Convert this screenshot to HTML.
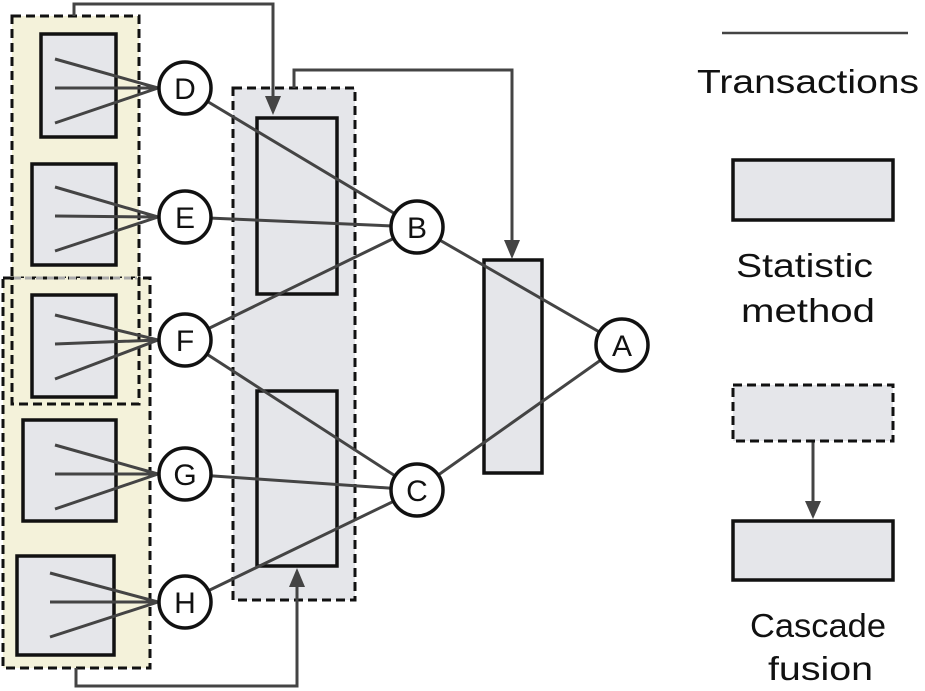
<!DOCTYPE html>
<html><head><meta charset="utf-8"><style>body{margin:0;background:#fff}svg{display:block}text{font-family:"Liberation Sans",sans-serif}</style></head><body>
<svg width="925" height="691" viewBox="0 0 925 691" xmlns="http://www.w3.org/2000/svg">
<!-- beige groups -->
<rect x="3" y="278" width="147" height="390" fill="#f4f2da" stroke="#111" stroke-width="3" stroke-dasharray="9,5"/>
<rect x="12" y="16" width="127" height="262" fill="#f4f2da" stroke="#111" stroke-width="3" stroke-dasharray="9,5"/>
<rect x="12" y="278" width="127" height="126" fill="#f4f2da" stroke="#111" stroke-width="3" stroke-dasharray="9,5"/>
<line x1="14" y1="278" x2="137" y2="278" stroke="#aaa" stroke-width="3" stroke-dasharray="7,4"/>
<!-- small boxes -->
<g fill="#e5e6ea" stroke="#111" stroke-width="3.5">
<rect x="41" y="34" width="75" height="103"/>
<rect x="32" y="164" width="84" height="101"/>
<rect x="32" y="295" width="84" height="102"/>
<rect x="23" y="420" width="93" height="101"/>
<rect x="17" y="556" width="97" height="99"/>
</g>
<g stroke="#444" stroke-width="3">
<path d="M55,59 L158,88 M55,88 L158,88 M55,123 L158,88"/>
<path d="M55,187 L158,217 M55,216 L158,217 M55,251 L158,217"/>
<path d="M55,315 L158,340 M55,344 L158,340 M55,379 L158,340"/>
<path d="M55,445 L158,474 M55,474 L158,474 M55,509 L158,474"/>
<path d="M50,573 L158,602 M50,602 L158,602 M50,637 L158,602"/>
</g>
<!-- middle group -->
<rect x="233" y="88" width="122" height="512" fill="#e5e6ea" stroke="#111" stroke-width="3" stroke-dasharray="9,5"/>
<rect x="257" y="118" width="80" height="176" fill="#e5e6ea" stroke="#111" stroke-width="3.5"/>
<rect x="257" y="391" width="80" height="175" fill="#e5e6ea" stroke="#111" stroke-width="3.5"/>
<rect x="484" y="260" width="58" height="213" fill="#e5e6ea" stroke="#111" stroke-width="3.5"/>
<!-- connectors -->
<g stroke="#444" stroke-width="3" fill="none">
<path d="M74,16 L74,4 L273,4 L273,100"/>
<path d="M294,88 L294,70 L512,70 L512,244"/>
<path d="M76,668 L76,686 L297,686 L297,584"/>
<path d="M185,88 L417,227 M185,217 L417,227 M185,340 L417,227"/>
<path d="M185,340 L417,490 M185,474 L417,490 M185,602 L417,490"/>
<path d="M417,227 L622,345 M417,490 L622,345"/>
<path d="M813,442 L813,504"/>
</g>
<g fill="#444">
<polygon points="265,96 281,96 273,115"/>
<polygon points="504,240 520,240 512,259"/>
<polygon points="289,587 305,587 297,568"/>
<polygon points="805,501 821,501 813,519"/>
</g>
<!-- nodes -->
<g fill="#fff" stroke="#111" stroke-width="3.5">
<circle cx="185" cy="88" r="26"/><circle cx="185" cy="217" r="26"/><circle cx="185" cy="340" r="26"/>
<circle cx="185" cy="474" r="26"/><circle cx="185" cy="602" r="26"/>
<circle cx="417" cy="227" r="26"/><circle cx="417" cy="490" r="26"/><circle cx="622" cy="345" r="26"/>
</g>
<g font-size="30" text-anchor="middle" fill="#111">
<text x="185" y="99">D</text><text x="185" y="228">E</text><text x="185" y="351">F</text>
<text x="185" y="485">G</text><text x="185" y="613">H</text>
<text x="417" y="238">B</text><text x="417" y="501">C</text><text x="622" y="356">A</text>
</g>
<!-- legend -->
<line x1="722" y1="33" x2="908" y2="33" stroke="#444" stroke-width="2.5"/>
<g font-size="33" fill="#111">
<text x="697" y="93" textLength="222" lengthAdjust="spacingAndGlyphs">Transactions</text>
<text x="736" y="277" textLength="137" lengthAdjust="spacingAndGlyphs">Statistic</text>
<text x="741" y="322" textLength="134" lengthAdjust="spacingAndGlyphs">method</text>
<text x="750" y="637" textLength="136" lengthAdjust="spacingAndGlyphs">Cascade</text>
<text x="768" y="680" textLength="105" lengthAdjust="spacingAndGlyphs">fusion</text>
</g>
<rect x="733" y="160" width="160" height="60" fill="#e5e6ea" stroke="#111" stroke-width="3.5"/>
<rect x="733" y="385" width="160" height="56" fill="#e5e6ea" stroke="#111" stroke-width="3" stroke-dasharray="9,5"/>
<rect x="733" y="521" width="160" height="59" fill="#e5e6ea" stroke="#111" stroke-width="3.5"/>
</svg>
</body></html>
